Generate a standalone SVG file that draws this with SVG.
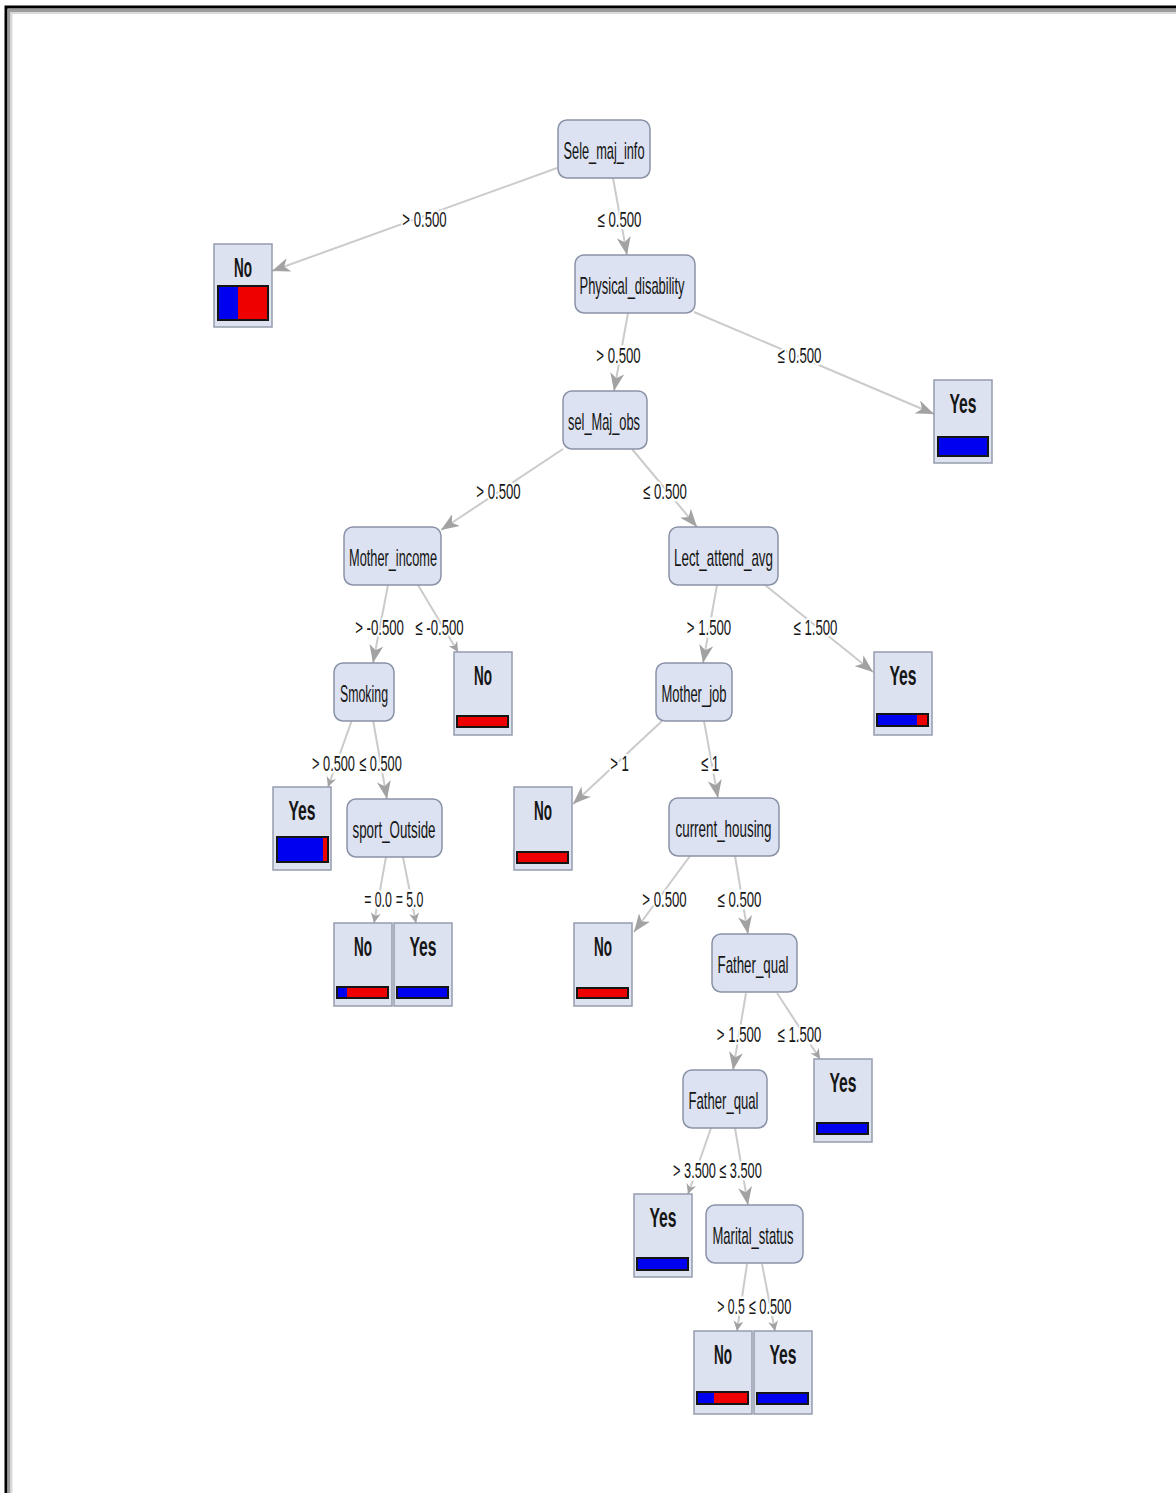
<svg xmlns="http://www.w3.org/2000/svg" width="1176" height="1493" viewBox="0 0 1176 1493">
<style>
.n{fill:#dce2f1;stroke:#8a92a8;stroke-width:1.5}
.lf{fill:#dde2f0;stroke:#959cae;stroke-width:1.5}
.t{font-family:"Liberation Sans",Arial,sans-serif;font-size:24px;fill:#151515;text-anchor:middle}
.lt{font-family:"Liberation Sans",Arial,sans-serif;font-size:27px;font-weight:bold;fill:#151515;text-anchor:middle}
.el{font-family:"Liberation Sans",Arial,sans-serif;font-size:22px;fill:#151515;text-anchor:middle;stroke:#fff;stroke-width:5;paint-order:stroke;stroke-linejoin:round}
.e{stroke:#cbcbcb;stroke-width:2;fill:none}
.eb{marker-end:url(#ab)}
.es{marker-end:url(#as)}
.bb{fill:#0000f0}
.br{fill:#ee0000}
.bo{fill:none;stroke:#151515;stroke-width:2}
</style>
<defs>
<marker id="ab" markerUnits="userSpaceOnUse" markerWidth="20" markerHeight="14" refX="18" refY="7" orient="auto">
<path d="M0,0 L18,7 L0,14 L5,7 z" fill="#a2a2a2"/>
</marker>
<marker id="as" markerUnits="userSpaceOnUse" markerWidth="12" markerHeight="10" refX="10" refY="5" orient="auto">
<path d="M0,0 L10,5 L0,10 L3,5 z" fill="#a2a2a2"/>
</marker>
</defs>
<rect x="0" y="0" width="1176" height="1493" fill="#fff"/>
<g id="frame">
<path d="M6,1493 V7 H1176" stroke="#000" stroke-width="3" fill="none"/>
<path d="M9,1493 V10.5 H1176" stroke="#9c9c9c" stroke-width="3" fill="none"/>
<path d="M11.5,1493 V13 H1176" stroke="#dadada" stroke-width="2" fill="none"/>
</g>
<g id="connectors">
<line class="e eb" x1="557" y1="168" x2="272" y2="271"/>
<line class="e eb" x1="613" y1="178" x2="627" y2="255"/>
<line class="e eb" x1="628" y1="313" x2="614" y2="391"/>
<line class="e eb" x1="694" y1="312" x2="934" y2="414"/>
<line class="e eb" x1="563" y1="449" x2="441" y2="530"/>
<line class="e eb" x1="632" y1="449" x2="697" y2="527"/>
<line class="e eb" x1="388" y1="585" x2="373" y2="663"/>
<line class="e es" x1="418" y1="585" x2="458" y2="652"/>
<line class="e eb" x1="717" y1="585" x2="703" y2="663"/>
<line class="e eb" x1="765" y1="585" x2="873" y2="672"/>
<line class="e es" x1="352" y1="720" x2="328" y2="787"/>
<line class="e eb" x1="373" y1="720" x2="387" y2="799"/>
<line class="e eb" x1="662" y1="721" x2="573" y2="804"/>
<line class="e eb" x1="704" y1="721" x2="718" y2="798"/>
<line class="e es" x1="386" y1="857" x2="374" y2="923"/>
<line class="e es" x1="403" y1="857" x2="416" y2="923"/>
<line class="e eb" x1="690" y1="856" x2="634" y2="932"/>
<line class="e eb" x1="735" y1="856" x2="748" y2="934"/>
<line class="e eb" x1="746" y1="993" x2="733" y2="1070"/>
<line class="e es" x1="777" y1="993" x2="820" y2="1059"/>
<line class="e es" x1="711" y1="1128" x2="688" y2="1194"/>
<line class="e eb" x1="735" y1="1128" x2="748" y2="1205"/>
<line class="e es" x1="747" y1="1264" x2="737" y2="1331"/>
<line class="e es" x1="762" y1="1264" x2="775" y2="1331"/>
</g>
<g id="edge-labels">
<text class="el" transform="translate(424.5,227) scale(0.6,1)">&gt; 0.500</text>
<text class="el" transform="translate(619.5,227) scale(0.6,1)">≤ 0.500</text>
<text class="el" transform="translate(618.5,363) scale(0.6,1)">&gt; 0.500</text>
<text class="el" transform="translate(799.5,363) scale(0.6,1)">≤ 0.500</text>
<text class="el" transform="translate(498.5,499) scale(0.6,1)">&gt; 0.500</text>
<text class="el" transform="translate(665,499) scale(0.6,1)">≤ 0.500</text>
<text class="el" transform="translate(379.5,635) scale(0.6,1)">&gt; -0.500</text>
<text class="el" transform="translate(439.5,635) scale(0.6,1)">≤ -0.500</text>
<text class="el" transform="translate(709,635) scale(0.6,1)">&gt; 1.500</text>
<text class="el" transform="translate(815.5,635) scale(0.6,1)">≤ 1.500</text>
<text class="el" transform="translate(333.5,771) scale(0.58,1)">&gt; 0.500</text>
<text class="el" transform="translate(380.5,771) scale(0.58,1)">≤ 0.500</text>
<text class="el" transform="translate(619.5,771) scale(0.6,1)">&gt; 1</text>
<text class="el" transform="translate(710,771) scale(0.6,1)">≤ 1</text>
<text class="el" transform="translate(378,907) scale(0.56,1)">= 0.0</text>
<text class="el" transform="translate(409.5,907) scale(0.56,1)">= 5.0</text>
<text class="el" transform="translate(664.5,907) scale(0.6,1)">&gt; 0.500</text>
<text class="el" transform="translate(739.5,907) scale(0.6,1)">≤ 0.500</text>
<text class="el" transform="translate(739,1042) scale(0.6,1)">&gt; 1.500</text>
<text class="el" transform="translate(799.5,1042) scale(0.6,1)">≤ 1.500</text>
<text class="el" transform="translate(694.5,1178) scale(0.58,1)">&gt; 3.500</text>
<text class="el" transform="translate(740.5,1178) scale(0.58,1)">≤ 3.500</text>
<text class="el" transform="translate(731,1314) scale(0.56,1)">&gt; 0.5</text>
<text class="el" transform="translate(770,1314) scale(0.58,1)">≤ 0.500</text>
</g>
<g id="node-sele-maj-info"><rect class="n" x="558" y="120" width="92" height="58" rx="9"/><text class="t" x="604" y="159" textLength="81" lengthAdjust="spacingAndGlyphs">Sele_maj_info</text></g>
<g id="node-physical-disability"><rect class="n" x="575" y="255" width="120" height="58" rx="9"/><text class="t" x="632" y="294" textLength="105" lengthAdjust="spacingAndGlyphs">Physical_disability</text></g>
<g id="node-sel-maj-obs"><rect class="n" x="563" y="391" width="84" height="58" rx="9"/><text class="t" x="604" y="430" textLength="72" lengthAdjust="spacingAndGlyphs">sel_Maj_obs</text></g>
<g id="node-mother-income"><rect class="n" x="344" y="527" width="97" height="58" rx="9"/><text class="t" x="393" y="566" textLength="88" lengthAdjust="spacingAndGlyphs">Mother_income</text></g>
<g id="node-lect-attend-avg"><rect class="n" x="669" y="527" width="109" height="58" rx="9"/><text class="t" x="723.5" y="566" textLength="99" lengthAdjust="spacingAndGlyphs">Lect_attend_avg</text></g>
<g id="node-smoking"><rect class="n" x="334" y="663" width="60" height="58" rx="9"/><text class="t" x="364" y="702" textLength="48" lengthAdjust="spacingAndGlyphs">Smoking</text></g>
<g id="node-mother-job"><rect class="n" x="656" y="663" width="76" height="58" rx="9"/><text class="t" x="694" y="702" textLength="65" lengthAdjust="spacingAndGlyphs">Mother_job</text></g>
<g id="node-sport-outside"><rect class="n" x="347" y="799" width="95" height="58" rx="9"/><text class="t" x="394" y="838" textLength="83" lengthAdjust="spacingAndGlyphs">sport_Outside</text></g>
<g id="node-current-housing"><rect class="n" x="669" y="798" width="110" height="58" rx="9"/><text class="t" x="723.5" y="837" textLength="96" lengthAdjust="spacingAndGlyphs">current_housing</text></g>
<g id="node-father-qual-1"><rect class="n" x="712" y="934" width="85" height="58" rx="9"/><text class="t" x="753" y="973" textLength="71" lengthAdjust="spacingAndGlyphs">Father_qual</text></g>
<g id="node-father-qual-2"><rect class="n" x="683" y="1070" width="84" height="58" rx="9"/><text class="t" x="723.5" y="1109" textLength="70" lengthAdjust="spacingAndGlyphs">Father_qual</text></g>
<g id="node-marital-status"><rect class="n" x="706" y="1205" width="97" height="58" rx="9"/><text class="t" x="753" y="1244" textLength="81" lengthAdjust="spacingAndGlyphs">Marital_status</text></g>

<g id="leaf-no-1"><rect class="lf" x="214" y="244" width="58" height="83"/><text class="lt" x="243" y="277" textLength="18" lengthAdjust="spacingAndGlyphs">No</text><rect class="bb" x="218" y="286" width="20" height="34"/><rect class="br" x="238" y="286" width="30" height="34"/><rect class="bo" x="218" y="286" width="50" height="34"/></g>
<g id="leaf-yes-2"><rect class="lf" x="934" y="380" width="58" height="83"/><text class="lt" x="963" y="413" textLength="27" lengthAdjust="spacingAndGlyphs">Yes</text><rect class="bb" x="938" y="437" width="50" height="19"/><rect class="bo" x="938" y="437" width="50" height="19"/></g>
<g id="leaf-no-3"><rect class="lf" x="454" y="652" width="58" height="83"/><text class="lt" x="483" y="685" textLength="18" lengthAdjust="spacingAndGlyphs">No</text><rect class="br" x="457" y="716" width="51" height="11"/><rect class="bo" x="457" y="716" width="51" height="11"/></g>
<g id="leaf-yes-4"><rect class="lf" x="874" y="652" width="58" height="83"/><text class="lt" x="903" y="685" textLength="27" lengthAdjust="spacingAndGlyphs">Yes</text><rect class="bb" x="877" y="714" width="40" height="12"/><rect class="br" x="917" y="714" width="11" height="12"/><rect class="bo" x="877" y="714" width="51" height="12"/></g>
<g id="leaf-yes-5"><rect class="lf" x="273" y="787" width="58" height="83"/><text class="lt" x="302" y="820" textLength="27" lengthAdjust="spacingAndGlyphs">Yes</text><rect class="bb" x="277" y="837" width="46" height="25"/><rect class="br" x="323" y="837" width="5" height="25"/><rect class="bo" x="277" y="837" width="51" height="25"/></g>
<g id="leaf-no-6"><rect class="lf" x="514" y="787" width="58" height="83"/><text class="lt" x="543" y="820" textLength="18" lengthAdjust="spacingAndGlyphs">No</text><rect class="br" x="517" y="852" width="51" height="11"/><rect class="bo" x="517" y="852" width="51" height="11"/></g>
<g id="leaf-no-7"><rect class="lf" x="334" y="923" width="58" height="83"/><text class="lt" x="363" y="956" textLength="18" lengthAdjust="spacingAndGlyphs">No</text><rect class="bb" x="337" y="987" width="10" height="11"/><rect class="br" x="347" y="987" width="41" height="11"/><rect class="bo" x="337" y="987" width="51" height="11"/></g>
<g id="leaf-yes-8"><rect class="lf" x="394" y="923" width="58" height="83"/><text class="lt" x="423" y="956" textLength="27" lengthAdjust="spacingAndGlyphs">Yes</text><rect class="bb" x="397" y="987" width="51" height="11"/><rect class="bo" x="397" y="987" width="51" height="11"/></g>
<g id="leaf-no-9"><rect class="lf" x="574" y="923" width="58" height="83"/><text class="lt" x="603" y="956" textLength="18" lengthAdjust="spacingAndGlyphs">No</text><rect class="br" x="577" y="988" width="51" height="10"/><rect class="bo" x="577" y="988" width="51" height="10"/></g>
<g id="leaf-yes-10"><rect class="lf" x="814" y="1059" width="58" height="83"/><text class="lt" x="843" y="1092" textLength="27" lengthAdjust="spacingAndGlyphs">Yes</text><rect class="bb" x="817" y="1123" width="51" height="11"/><rect class="bo" x="817" y="1123" width="51" height="11"/></g>
<g id="leaf-yes-11"><rect class="lf" x="634" y="1194" width="58" height="83"/><text class="lt" x="663" y="1227" textLength="27" lengthAdjust="spacingAndGlyphs">Yes</text><rect class="bb" x="637" y="1258" width="51" height="12"/><rect class="bo" x="637" y="1258" width="51" height="12"/></g>
<g id="leaf-no-12"><rect class="lf" x="694" y="1331" width="58" height="83"/><text class="lt" x="723" y="1364" textLength="18" lengthAdjust="spacingAndGlyphs">No</text><rect class="bb" x="697" y="1392" width="17" height="12"/><rect class="br" x="714" y="1392" width="34" height="12"/><rect class="bo" x="697" y="1392" width="51" height="12"/></g>
<g id="leaf-yes-13"><rect class="lf" x="754" y="1331" width="58" height="83"/><text class="lt" x="783" y="1364" textLength="27" lengthAdjust="spacingAndGlyphs">Yes</text><rect class="bb" x="757" y="1393" width="51" height="11"/><rect class="bo" x="757" y="1393" width="51" height="11"/></g>
</svg>
